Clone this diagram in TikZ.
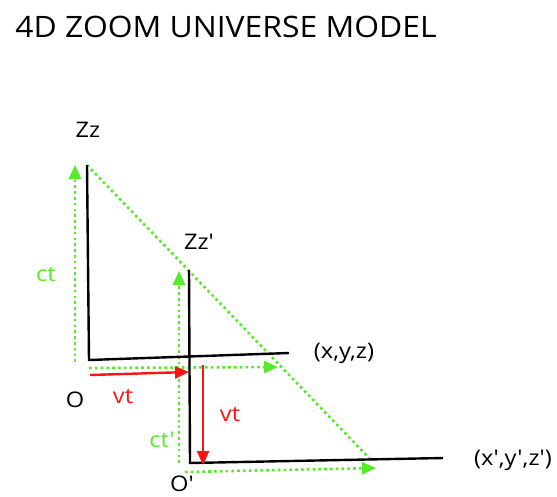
\documentclass[tikz,border=0pt]{standalone}
\usepackage{fontspec}
\setmainfont{Open Sans}[Ligatures=TeXOff]
\usetikzlibrary{arrows.meta}
\definecolor{lgreen}{RGB}{85,235,40}
\definecolor{lred}{RGB}{250,20,20}
\newcommand{\hs}[1]{\scalebox{1.1}[1]{#1}}
\tikzset{
  axis/.style={line width=2.4pt, black},
  gdot/.style={lgreen, line width=2.6pt, dash pattern=on 2.6pt off 3.2pt},
  garrow/.style={gdot, -{Triangle[length=14pt,width=12pt,fill=lgreen]}},
  rarrow/.style={lred, line width=2.4pt, -{Triangle[length=14pt,width=12pt]}},
  lbl/.style={font=\fontsize{21.5}{24}\selectfont, inner sep=0pt},
  glbl/.style={lbl, text=lgreen},
  rlbl/.style={lbl, text=lred},
}
\begin{document}
\begin{tikzpicture}[x=1pt,y=-1pt]
\useasboundingbox (0,0) rectangle (557,496);
\node[inner sep=0pt, font=\fontsize{29.5}{32}\selectfont] (title) at (226,27) {\scalebox{1.08}[1]{4D ZOOM UNIVERSE MODEL}};
% coordinates
\coordinate (Atop) at (87,165);
\coordinate (O1) at (89,360);
\coordinate (X1) at (289,353);
\coordinate (Btop) at (189,270);
\coordinate (O2) at (190,463);
\coordinate (X2) at (443,458);
\coordinate (Dend) at (370,459);
\coordinate (ct1s) at (75,362);
\coordinate (ct1e) at (75,165);
\coordinate (ct2s) at (179,463);
\coordinate (ct2e) at (179,271);
\coordinate (h1s) at (89,368);
\coordinate (h1e) at (278,367);
\coordinate (h2s) at (185,472);
\coordinate (h2e) at (376,468);
\coordinate (r1s) at (90,375);
\coordinate (r1e) at (189,372);
\coordinate (r2s) at (203,365);
\coordinate (r2e) at (203,465);
% green dotted
\draw[gdot] (Atop) -- (Dend);
\draw[garrow] (ct1s) -- (ct1e);
\draw[garrow] (ct2s) -- (ct2e);
\draw[garrow] (h1s) -- (h1e);
\draw[garrow] (h2s) -- (h2e);
% axes
\draw[axis] (Atop) -- (O1) -- (X1);
\draw[axis] (Btop) -- (O2) -- (X2);
% red
\draw[rarrow] (r1s) -- (r1e);
\draw[rarrow] (r2s) -- (r2e);
% labels
\node[lbl] (zz) at (88,130) {\hs{Zz}};
\node[lbl] (zz2) at (199,242) {\hs{Zz'}};
\node[glbl] (ct) at (46,275) {\hs{ct}};
\node[glbl] (ct2) at (162,440) {\hs{ct'}};
\node[lbl] (o) at (75,400) {\hs{O}};
\node[lbl] (o2) at (182,484) {\hs{O'}};
\node[lbl] (xyz) at (344,353) {\hs{(x,y,z)}};
\node[lbl] (xyz2) at (513,460) {\hs{(x',y',z')}};
\node[rlbl] (vt1) at (123,397) {\hs{vt}};
\node[rlbl] (vt2) at (230,415) {\hs{vt}};
\end{tikzpicture}
\end{document}
